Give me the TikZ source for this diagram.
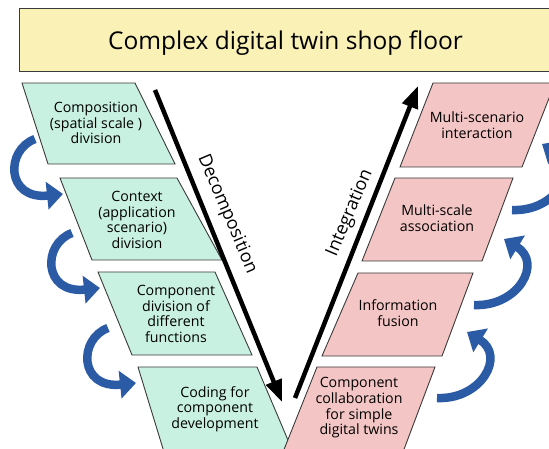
\documentclass[tikz,border=0pt]{standalone}
\usepackage{fontspec}
\setmainfont{Open Sans}
\usetikzlibrary{arrows.meta}
\definecolor{boxgreen}{HTML}{C9F1E2}
\definecolor{boxpink}{HTML}{F4C5C5}
\definecolor{titleyellow}{HTML}{FAF1B6}
\definecolor{flowblue}{HTML}{2C5BA6}
\definecolor{edgegray}{HTML}{3A3A3A}
\begin{document}
\begin{tikzpicture}[x=1pt,y=-1pt,
  stage/.style={draw=edgegray, line width=0.9pt, line join=miter},
  greenstage/.style={stage, fill=boxgreen},
  pinkstage/.style={stage, fill=boxpink},
  stagetext/.style={align=center, inner sep=0pt, font=\fontsize{14.2}{15.7}\selectfont, text=black},
  flow/.style={draw=flowblue, line width=8.5pt, -{Triangle[width=27pt,length=16pt]}},
  trend/.style={line width=4.5pt, -{Triangle[width=16pt,length=22pt]}},
  trendtext/.style={inner sep=0pt, font=\fontsize{18}{20}\selectfont}]
\useasboundingbox (0,0) rectangle (549,449);
\clip (0,0) rectangle (549,449);

% title bar
\draw[fill=titleyellow, draw=edgegray, line width=1pt] (19,9) rectangle (570,72);
\node (title) [anchor=base, inner sep=0pt, font=\fontsize{24.5}{28}\selectfont] at (285.5,49.5) {Complex digital twin shop floor};

% decomposition stages
\draw[greenstage] (22,83) -- (135,83) -- (175,164) -- (48,164) -- cycle;
\draw[greenstage] (60,178) -- (177,178) -- (222,260) -- (92,260) -- cycle;
\draw[greenstage] (98,272) -- (215,272) -- (252,355) -- (132,355) -- cycle;
\draw[greenstage] (138,367) -- (257,367) -- (293,452) -- (164,452) -- cycle;

% integration stages
\draw[pinkstage] (433,83) -- (555,83) -- (522,167) -- (400,167) -- cycle;
\draw[pinkstage] (395,178) -- (513,178) -- (482,261) -- (362,261) -- cycle;
\draw[pinkstage] (358,273) -- (473,273) -- (442,356) -- (322,356) -- cycle;
\draw[pinkstage] (317,367) -- (435,367) -- (403,452) -- (283,452) -- cycle;

% stage texts
\node (d1) [stagetext] at (96,123) {Composition\\(spatial scale )\\division};
\node (d2) [stagetext] at (137,220) {Context\\(application\\scenario)\\division};
\node (d3) [stagetext] at (176,314) {Component\\division of\\different\\functions};
\node (d4) [stagetext] at (215,409) {Coding for\\component\\development};
\node (i1) [stagetext] at (477,125) {Multi-scenario\\interaction};
\node (i2) [stagetext] at (437,218) {Multi-scale\\association};
\node (i3) [stagetext] at (398,313) {Information\\fusion};
\node (i4) [stagetext] at (359,408) {Component\\collaboration\\for simple\\digital twins};

% main trend arrows
\coordinate (dtail) at (155,90);
\coordinate (dtip) at (282,402);
\coordinate (itail) at (295,398);
\coordinate (itip) at (418,86);
\draw[trend] (dtail) -- (dtip);
\draw[trend] (itail) -- (itip);
\node (dlabel) [trendtext, rotate=-67] at (227,214) {Decomposition};
\node (ilabel) [trendtext, rotate=67] at (350,213) {Integration};

% curved flow arrows, left side (downwards)
\foreach \k/\dx/\dy in {0/0/0, 1/37/94, 2/73/189} {
  \coordinate (la\k) at (35+\dx,139+\dy);
  \coordinate (lb\k) at (63+\dx,194+\dy);
  \draw[flow] (la\k) .. controls ++(-30,11) and ++(-57,6) .. (lb\k);
}

% curved flow arrows, right side (upwards)
\foreach \k/\dx/\dy in {0/0/0, 1/37/-93, 2/75/-188} {
  \coordinate (ra\k) at (437+\dx,398+\dy);
  \coordinate (rb\k) at (467+\dx,332+\dy);
  \draw[flow] (ra\k) .. controls ++(44,2) and ++(39,24) .. (rb\k);
}
\end{tikzpicture}
\end{document}
